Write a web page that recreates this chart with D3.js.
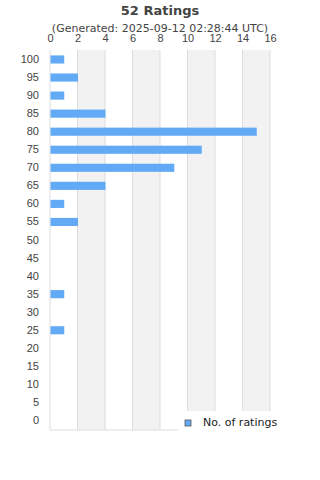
<!DOCTYPE html>
<html>
<head>
<meta charset="utf-8">
<script src="https://cdn.jsdelivr.net/npm/d3@7"></script>
<style>
  body { margin: 0; background: #fff; }
  svg { font-family: "DejaVu Sans", sans-serif; }
</style>
</head>
<body>
<svg id="chart"></svg>
<script>
const title = "52 Ratings";
const subtitle = "(Generated: 2025-09-12 02:28:44 UTC)";
const scores = ["100", "95", "90", "85", "80", "75", "70", "65", "60", "55", "50",
  "45", "40", "35", "30", "25", "20", "15", "10", "5", "0"];
const counts = [1, 2, 1, 4, 15, 11, 9, 4, 1, 2, 0, 0, 0, 1, 0, 1, 0, 0, 0, 0, 0];
const xTicks = [0, 2, 4, 6, 8, 10, 12, 14, 16];
const legendLabel = "No. of ratings";

const width = 320;
const height = 480;
const margin = { top: 50, right: 50, bottom: 50, left: 50 };

const svg = d3.select("#chart").attr("width", width).attr("height", height);

const x = d3.scaleLinear()
  .domain([0, 16])
  .range([margin.left, width - margin.right]);

const y = d3.scaleBand()
  .domain(scores)
  .range([margin.top, height - margin.bottom])
  .paddingInner(0.55)
  .paddingOuter(0.3);

// alternating bands
svg.append("g")
  .selectAll("rect")
  .data(xTicks.slice(0, -1).filter((d, i) => i % 2 === 1))
  .join("rect")
  .attr("x", (d) => x(d))
  .attr("y", margin.top)
  .attr("width", (d) => x(d + 2) - x(d))
  .attr("height", height - margin.bottom - margin.top)
  .attr("fill", "#f2f2f2");

// grid lines
svg.append("g")
  .selectAll("line")
  .data(xTicks)
  .join("line")
  .attr("x1", (d) => x(d))
  .attr("x2", (d) => x(d))
  .attr("y1", margin.top)
  .attr("y2", height - margin.bottom)
  .attr("stroke", "#dddddd")
  .attr("stroke-width", 1);

svg.append("line")
  .attr("x1", margin.left)
  .attr("x2", width - margin.right)
  .attr("y1", height - margin.bottom)
  .attr("y2", height - margin.bottom)
  .attr("stroke", "#dddddd");

// bars
svg.append("g")
  .selectAll("rect")
  .data(counts.map((c, i) => ({ score: scores[i], count: c })).filter((d) => d.count > 0))
  .join("rect")
  .attr("x", x(0) + 0.5)
  .attr("y", (d) => y(d.score))
  .attr("width", (d) => x(d.count) - x(0))
  .attr("height", y.bandwidth())
  .attr("fill", "#62aaf5");

// axes
const xAxis = svg.append("g")
  .attr("transform", `translate(0, ${margin.top - 8.5})`)
  .call(d3.axisTop(x).tickValues(xTicks).tickSize(0).tickPadding(0));
xAxis.select(".domain").remove();
xAxis.selectAll("text").attr("font-size", 11).attr("fill", "#444");

const yAxis = svg.append("g")
  .attr("transform", `translate(${margin.left - 11}, 0)`)
  .call(d3.axisLeft(y).tickSize(0).tickPadding(0));
yAxis.select(".domain").remove();
yAxis.selectAll("text").attr("font-size", 11).attr("fill", "#444");

// titles
svg.append("text")
  .attr("x", width / 2)
  .attr("y", 15)
  .attr("text-anchor", "middle")
  .attr("font-size", 13)
  .attr("font-weight", "bold")
  .attr("fill", "#444")
  .text(title);

svg.append("text")
  .attr("x", width / 2)
  .attr("y", 32)
  .attr("text-anchor", "middle")
  .attr("font-size", 11)
  .attr("fill", "#444")
  .text(subtitle);

// legend
const legend = svg.append("g").attr("transform", "translate(178, 411)");
legend.append("rect")
  .attr("width", 130)
  .attr("height", 22)
  .attr("fill", "#fff");
legend.append("rect")
  .attr("x", 7)
  .attr("y", 9)
  .attr("width", 6)
  .attr("height", 6)
  .attr("fill", "#62aaf5")
  .attr("stroke", "#555")
  .attr("stroke-width", 0.8);
legend.append("text")
  .attr("x", 25)
  .attr("y", 15)
  .attr("font-size", 11)
  .attr("fill", "#222")
  .text(legendLabel);
</script>
</body>
</html>
